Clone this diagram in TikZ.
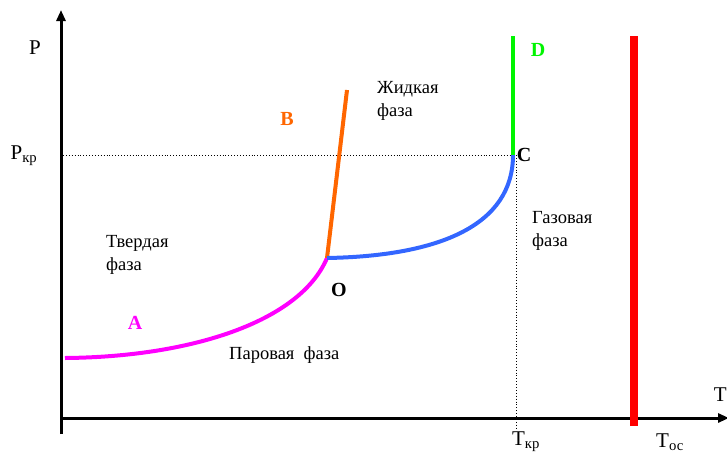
\documentclass[tikz,border=0pt]{standalone}
\usepackage{fontspec}
\setmainfont{Liberation Serif}
\usetikzlibrary{arrows.meta}
\definecolor{cMag}{RGB}{255,0,255}
\definecolor{cOra}{RGB}{255,102,0}
\definecolor{cBlu}{RGB}{51,102,255}
\definecolor{cGrn}{RGB}{0,245,0}
\definecolor{cRed}{RGB}{255,0,0}
\begin{document}
\begin{tikzpicture}[x=1pt,y=-1pt,
  lbl/.style={inner sep=0pt,font=\fontsize{18.5}{23}\selectfont},
  big/.style={inner sep=0pt,font=\fontsize{21}{24}\selectfont},
  ax/.style={line width=3pt,-{Triangle[length=11pt,width=9pt]}},
  pt/.style={inner sep=0pt,font=\fontsize{20}{22}\selectfont\bfseries},
  curve/.style={line width=4pt},
  guide/.style={dotted,line width=0.9pt}]
\useasboundingbox (0,0) rectangle (727,455);
% axes
\coordinate (ybot) at (61,434);
\coordinate (ytop) at (61,10);
\coordinate (xleft) at (61,418);
\coordinate (xright) at (729,418);
\draw[ax] (ybot) -- (ytop);
\draw[ax] (xleft) -- (xright);
% key points
\coordinate (A0) at (65,358);
\coordinate (O) at (327,258);
\coordinate (B0) at (347,90);
\coordinate (C) at (513,155);
\coordinate (D0) at (513,36);
\coordinate (Pk) at (63,155);
\coordinate (C2) at (516,155);
\coordinate (Tk) at (516,428);
\coordinate (Rt) at (634,36);
\coordinate (Rb) at (634,426);
% guides
\draw[guide] (Pk) -- (C);
\draw[guide] (C2) -- (Tk);
% curves
\draw[curve,cMag] (A0) .. controls (190,357) and (300,322) .. (O);
\draw[curve,cOra] (O) -- (B0);
\draw[curve,cBlu] (O) .. controls (440,256) and (513,225) .. (C);
\draw[curve,cGrn] (C) -- (D0);
\draw[line width=8pt,cRed] (Rb) -- (Rt);
% labels
\node[big] (lP) at (35,48) {P};
\node[big] (lPk) at (24,156) {P\textsubscript{кр}};
\node[big,anchor=east] (lT) at (727,395) {T};
\node[big] (lTk) at (526,442) {T\textsubscript{кр}};
\node[big] (lTo) at (670,442) {T\textsubscript{ос}};
\node[pt,cGrn] (lD) at (538,50) {D};
\node[pt] (lC) at (524,155) {C};
\node[pt,cOra] (lB) at (287,119) {B};
\node[pt,cMag] (lA) at (135,323) {A};
\node[pt] (lO) at (339,290) {O};
\node[lbl,align=left,anchor=north west] (liq) at (377,81) {Жидкая\\фаза};
\node[lbl,align=left,anchor=north west] (sol) at (106,235) {Твердая\\фаза};
\node[lbl,align=left,anchor=north west] (gas) at (532,211) {Газовая\\фаза};
\node[lbl,anchor=west] (vap) at (229,355) {Паровая\ \ фаза};
\end{tikzpicture}
\end{document}
